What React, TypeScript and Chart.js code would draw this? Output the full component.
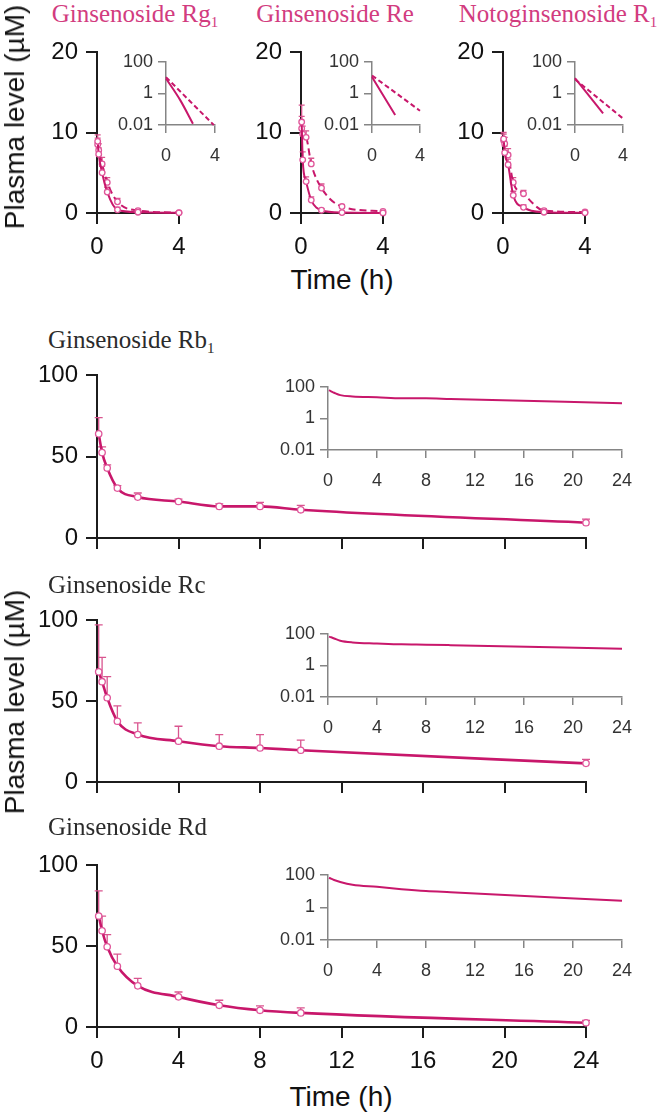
import React, { useEffect, useRef } from 'react';
import { Chart, registerables } from 'chart.js';

Chart.register(...registerables);

const LINE = '#c8176b';
const ERRC = '#d9558f';
const TITLE_PINK = '#d23c7f';
const MAIN_AXIS = '#1c1c1c';
const INSET_AXIS = '#858585';
const SANS = "'Liberation Sans', Arial, sans-serif";
const SERIF = "'Liberation Serif', 'Times New Roman', serif";

// ---------- top panels (0-4 h) ----------
const TOP_TIMES = [0.033, 0.083, 0.25, 0.5, 1, 2, 4];
const TOP_Y_TICKS = [0, 10, 20];
const TOP_X_TICKS = [0, 4];

const RG1_SOLID = [8.9, 7.3, 5.0, 2.6, 0.4, 0.1, 0.02];
const RG1_SOLID_ERR = [0.8, 0.8, 0.8, 0.6, 0.3, 0.1, 0.05];
const RG1_DASH = [8.5, 7.8, 6.1, 3.8, 1.4, 0.3, 0.05];
const RG1_DASH_ERR = [0.8, 0.8, 0.8, 0.6, 0.4, 0.2, 0.1];

const RE_SOLID = [11.3, 6.6, 3.9, 1.6, 0.35, 0.05, 0.01];
const RE_SOLID_ERR = [2.1, 1.0, 0.6, 0.4, 0.2, 0.05, 0];
const RE_DASH = [10.5, 9.8, 9.4, 6.1, 3.1, 0.8, 0.2];
const RE_DASH_ERR = [1.5, 1.0, 0.8, 0.7, 0.5, 0.2, 0.1];

const R1_SOLID = [9.2, 7.5, 6.0, 2.2, 0.7, 0.1, 0.02];
const R1_SOLID_ERR = [0.8, 0.8, 0.7, 0.5, 0.3, 0.1, 0];
const R1_DASH = [9.0, 8.6, 7.2, 3.8, 2.4, 0.3, 0.12];
const R1_DASH_ERR = [0.8, 0.8, 0.8, 0.6, 0.4, 0.2, 0.1];

// top insets (log scale, fitted lines)
const RG1_FIT_SOLID_T = [0, 1.16, 2.2];
const RG1_FIT_SOLID = [9, 0.38, 0.012];
const RG1_FIT_DASH_T = [0, 2, 3.9];
const RG1_FIT_DASH = [11, 0.3, 0.01];

const RE_FIT_SOLID_T = [0, 1.93];
const RE_FIT_SOLID = [11, 0.043];
const RE_FIT_DASH_T = [0, 4];
const RE_FIT_DASH = [14, 0.08];

const R1_FIT_SOLID_T = [0, 2.34];
const R1_FIT_SOLID = [9.3, 0.055];
const R1_FIT_DASH_T = [0, 4];
const R1_FIT_DASH = [8, 0.026];

const LOG_TICKS = [0.01, 1, 100];

// ---------- bottom panels (0-24 h) ----------
const BOT_TIMES = [0.083, 0.25, 0.5, 1, 2, 4, 6, 8, 10, 24];
const BOT_Y_TICKS = [0, 50, 100];
const BOT_X_TICKS = [0, 4, 8, 12, 16, 20, 24];

const RB1 = [63.9, 52.4, 42.9, 30.6, 25.1, 22.4, 19.4, 19.4, 17.3, 9.4];
const RB1_ERR = [10, 3.5, 2, 1.5, 2.5, 1.5, 1.5, 2.4, 2.7, 2.2];
const RC = [68, 61.9, 52, 37.5, 29.3, 25.2, 22.1, 21, 19.6, 11.5];
const RC_ERR = [29, 15, 13, 9.5, 7.2, 9.2, 7.2, 8.3, 6.2, 2.5];
const RD = [68.5, 59.4, 49.5, 37.5, 25.4, 18.6, 13.4, 10.3, 8.7, 2.6];
const RD_ERR = [15.5, 9, 7.5, 7.5, 4.6, 3, 3.1, 2.7, 3.1, 1.5];

type Series = { t: number[]; v: number[]; err?: number[]; dash?: boolean; markers: boolean };
type Area = { l: number; r: number; t: number; b: number };
type Panel = {
  key: string;
  area: Area;
  inset: boolean;
  xTicks: number[];
  yTicks: number[];
  xLabels: boolean;
  series: Series[];
};

const MAIN_M = { l: 75, r: 25, t: 16, b: 48 };
const INSET_M = { l: 55, r: 18, t: 12, b: 40 };

const PANELS: Panel[] = [
  {
    key: 'rg1', area: { l: 97, r: 179, t: 52, b: 213 }, inset: false, xTicks: TOP_X_TICKS, yTicks: TOP_Y_TICKS, xLabels: true,
    series: [
      { t: TOP_TIMES, v: RG1_SOLID, err: RG1_SOLID_ERR, markers: true },
      { t: TOP_TIMES, v: RG1_DASH, err: RG1_DASH_ERR, dash: true, markers: true },
    ],
  },
  {
    key: 're', area: { l: 301, r: 383, t: 52, b: 213 }, inset: false, xTicks: TOP_X_TICKS, yTicks: TOP_Y_TICKS, xLabels: true,
    series: [
      { t: TOP_TIMES, v: RE_SOLID, err: RE_SOLID_ERR, markers: true },
      { t: TOP_TIMES, v: RE_DASH, err: RE_DASH_ERR, dash: true, markers: true },
    ],
  },
  {
    key: 'r1', area: { l: 503, r: 585, t: 52, b: 213 }, inset: false, xTicks: TOP_X_TICKS, yTicks: TOP_Y_TICKS, xLabels: true,
    series: [
      { t: TOP_TIMES, v: R1_SOLID, err: R1_SOLID_ERR, markers: true },
      { t: TOP_TIMES, v: R1_DASH, err: R1_DASH_ERR, dash: true, markers: true },
    ],
  },
  {
    key: 'rg1i', area: { l: 166, r: 215, t: 62, b: 125 }, inset: true, xTicks: TOP_X_TICKS, yTicks: LOG_TICKS, xLabels: true,
    series: [
      { t: RG1_FIT_SOLID_T, v: RG1_FIT_SOLID, markers: false },
      { t: RG1_FIT_DASH_T, v: RG1_FIT_DASH, dash: true, markers: false },
    ],
  },
  {
    key: 'rei', area: { l: 372, r: 420, t: 62, b: 125 }, inset: true, xTicks: TOP_X_TICKS, yTicks: LOG_TICKS, xLabels: true,
    series: [
      { t: RE_FIT_SOLID_T, v: RE_FIT_SOLID, markers: false },
      { t: RE_FIT_DASH_T, v: RE_FIT_DASH, dash: true, markers: false },
    ],
  },
  {
    key: 'r1i', area: { l: 575, r: 623, t: 62, b: 125 }, inset: true, xTicks: TOP_X_TICKS, yTicks: LOG_TICKS, xLabels: true,
    series: [
      { t: R1_FIT_SOLID_T, v: R1_FIT_SOLID, markers: false },
      { t: R1_FIT_DASH_T, v: R1_FIT_DASH, dash: true, markers: false },
    ],
  },
  {
    key: 'rb1', area: { l: 97, r: 586, t: 375, b: 538 }, inset: false, xTicks: BOT_X_TICKS, yTicks: BOT_Y_TICKS, xLabels: false,
    series: [{ t: BOT_TIMES, v: RB1, err: RB1_ERR, markers: true }],
  },
  {
    key: 'rc', area: { l: 97, r: 586, t: 620, b: 782 }, inset: false, xTicks: BOT_X_TICKS, yTicks: BOT_Y_TICKS, xLabels: false,
    series: [{ t: BOT_TIMES, v: RC, err: RC_ERR, markers: true }],
  },
  {
    key: 'rd', area: { l: 97, r: 586, t: 865, b: 1027 }, inset: false, xTicks: BOT_X_TICKS, yTicks: BOT_Y_TICKS, xLabels: true,
    series: [{ t: BOT_TIMES, v: RD, err: RD_ERR, markers: true }],
  },
  {
    key: 'rb1i', area: { l: 328, r: 622, t: 387, b: 450 }, inset: true, xTicks: BOT_X_TICKS, yTicks: LOG_TICKS, xLabels: true,
    series: [{ t: BOT_TIMES, v: RB1, markers: false }],
  },
  {
    key: 'rci', area: { l: 328, r: 622, t: 634, b: 697 }, inset: true, xTicks: BOT_X_TICKS, yTicks: LOG_TICKS, xLabels: true,
    series: [{ t: BOT_TIMES, v: RC, markers: false }],
  },
  {
    key: 'rdi', area: { l: 328, r: 622, t: 875, b: 940 }, inset: true, xTicks: BOT_X_TICKS, yTicks: LOG_TICKS, xLabels: true,
    series: [{ t: BOT_TIMES, v: RD, markers: false }],
  },
];

const errorBarPlugin = {
  id: 'errbars',
  beforeDatasetsDraw(chart: any) {
    const ctx = chart.ctx;
    const xs = chart.scales.x;
    const ys = chart.scales.y;
    chart.data.datasets.forEach((ds: any) => {
      if (!ds.errs) return;
      ctx.save();
      ctx.strokeStyle = ERRC;
      ctx.lineWidth = 1.3;
      ctx.setLineDash([]);
      ds.data.forEach((p: any, i: number) => {
        const e = ds.errs[i];
        if (!e) return;
        const px = xs.getPixelForValue(p.x);
        const y0 = ys.getPixelForValue(p.y);
        const y1 = ys.getPixelForValue(p.y + e);
        ctx.beginPath();
        ctx.moveTo(px, y0);
        ctx.lineTo(px, y1);
        ctx.moveTo(px - ds.cap, y1);
        ctx.lineTo(px + ds.cap, y1);
        ctx.stroke();
      });
      ctx.restore();
    });
  },
};

function marginsOf(p: Panel) {
  return p.inset ? INSET_M : MAIN_M;
}

function makeChart(canvas: HTMLCanvasElement, p: Panel) {
  const m = marginsOf(p);
  const inset = p.inset;
  const axisColor = inset ? INSET_AXIS : MAIN_AXIS;
  const fontSize = inset ? 18 : 24;
  const tickLen = inset ? 8 : 11;
  const lw = inset ? 1.5 : 2;
  const isTop = p.xTicks.length === 2;
  const datasets = p.series.map((s) => ({
    data: s.t.map((t, i) => ({ x: t, y: s.v[i] })),
    borderColor: LINE,
    borderWidth: inset ? 2 : isTop ? 2 : 2.6,
    borderDash: s.dash ? (inset ? [5, 3] : [7, 4]) : [],
    pointRadius: s.markers ? (isTop ? 2.8 : 3.2) : 0,
    pointBackgroundColor: '#ffffff',
    pointBorderColor: '#e0569a',
    pointBorderWidth: 1.3,
    cubicInterpolationMode: 'monotone' as const,
    clip: false as any,
    errs: s.err,
    cap: isTop ? 3 : 4,
  }));

  const xMin = p.xTicks[0];
  const xMax = p.xTicks[p.xTicks.length - 1];
  const yMin = p.yTicks[0];
  const yMax = p.yTicks[p.yTicks.length - 1];

  return new Chart(canvas, {
    type: 'line',
    data: { datasets: datasets as any },
    plugins: [errorBarPlugin],
    options: {
      animation: false,
      responsive: false,
      devicePixelRatio: 1,
      events: [],
      layout: { padding: { left: 0, top: m.t, right: m.r, bottom: 0 }, autoPadding: false },
      plugins: { legend: { display: false }, tooltip: { enabled: false }, title: { display: false } },
      scales: {
        x: {
          type: 'linear',
          min: xMin,
          max: xMax,
          afterBuildTicks: (s: any) => {
            s.ticks = p.xTicks.map((v) => ({ value: v }));
          },
          ticks: {
            display: p.xLabels,
            color: inset ? '#333' : '#111',
            font: { size: fontSize, family: SANS },
            padding: inset ? 12 : 9,
            maxRotation: 0,
            autoSkip: false,
            callback: (v: any) => String(v),
          },
          grid: { display: true, drawOnChartArea: false, drawTicks: true, tickLength: tickLen, color: axisColor, lineWidth: lw },
          border: { display: true, color: axisColor, width: lw },
          afterFit: (s: any) => {
            s.height = m.b;
            s.paddingLeft = 0;
            s.paddingRight = 0;
          },
        },
        y: {
          type: inset ? 'logarithmic' : 'linear',
          min: yMin,
          max: yMax,
          afterBuildTicks: (s: any) => {
            s.ticks = p.yTicks.map((v) => ({ value: v }));
          },
          ticks: {
            color: inset ? '#333' : '#111',
            font: { size: fontSize, family: SANS },
            padding: inset ? 5 : 8,
            autoSkip: false,
            callback: (v: any) => (v === 0.01 ? '0.01' : String(v)),
          },
          grid: { display: true, drawOnChartArea: false, drawTicks: true, tickLength: tickLen, color: axisColor, lineWidth: lw },
          border: { display: true, color: axisColor, width: lw },
          afterFit: (s: any) => {
            s.width = m.l;
            s.paddingTop = 0;
            s.paddingBottom = 0;
          },
        },
      },
    } as any,
  });
}

const abs = (x: number, y: number, extra: React.CSSProperties = {}): React.CSSProperties => ({
  position: 'absolute',
  left: x,
  top: y,
  whiteSpace: 'nowrap',
  ...extra,
});

export default function App() {
  const refs = useRef<(HTMLCanvasElement | null)[]>([]);

  useEffect(() => {
    const charts: Chart[] = [];
    PANELS.forEach((p, i) => {
      const c = refs.current[i];
      if (c) charts.push(makeChart(c, p));
    });
    return () => charts.forEach((c) => c.destroy());
  }, []);

  const topTitle = (x: number, main: string, sub?: string) => (
    <div style={abs(x, 14, { transform: 'translate(-50%,-50%)', font: `25px ${SERIF}`, color: TITLE_PINK, lineHeight: '28px' })}>
      {main}
      {sub ? <sub style={{ fontSize: 15, verticalAlign: '-5px', lineHeight: 0 }}>{sub}</sub> : null}
    </div>
  );
  const botTitle = (y: number, main: string, sub?: string) => (
    <div style={abs(48, y, { transform: 'translateY(-50%)', font: `25px ${SERIF}`, color: '#2b2b2b', lineHeight: '28px' })}>
      {main}
      {sub ? <sub style={{ fontSize: 15, verticalAlign: '-5px', lineHeight: 0 }}>{sub}</sub> : null}
    </div>
  );
  const yLabel = (cy: number) => (
    <div style={abs(15, cy, { transform: 'translate(-50%,-50%) rotate(-90deg)', font: `28px ${SANS}`, color: '#111', lineHeight: '32px' })}>
      Plasma level (µM)
    </div>
  );
  const xLabel = (cx: number, cy: number) => (
    <div style={abs(cx, cy, { transform: 'translate(-50%,-50%)', font: `28px ${SANS}`, color: '#111', lineHeight: '32px' })}>
      Time (h)
    </div>
  );

  return (
    <div style={{ position: 'absolute', left: 0, top: 0, width: 670, height: 1118, background: '#fff', overflow: 'hidden' }}>
      {PANELS.map((p, i) => {
        const m = marginsOf(p);
        const w = p.area.r - p.area.l + m.l + m.r;
        const h = p.area.b - p.area.t + m.t + m.b;
        return (
          <canvas
            key={p.key}
            ref={(el) => {
              refs.current[i] = el;
            }}
            width={w}
            height={h}
            style={{ position: 'absolute', left: p.area.l - m.l, top: p.area.t - m.t, width: w, height: h }}
          />
        );
      })}
      {topTitle(135, 'Ginsenoside Rg', '1')}
      {topTitle(335, 'Ginsenoside Re')}
      {topTitle(558, 'Notoginsenoside R', '1')}
      {yLabel(117)}
      {xLabel(342, 280)}
      {botTitle(340, 'Ginsenoside Rb', '1')}
      {botTitle(585, 'Ginsenoside Rc')}
      {botTitle(827, 'Ginsenoside Rd')}
      {yLabel(702)}
      {xLabel(341, 1097)}
    </div>
  );
}
